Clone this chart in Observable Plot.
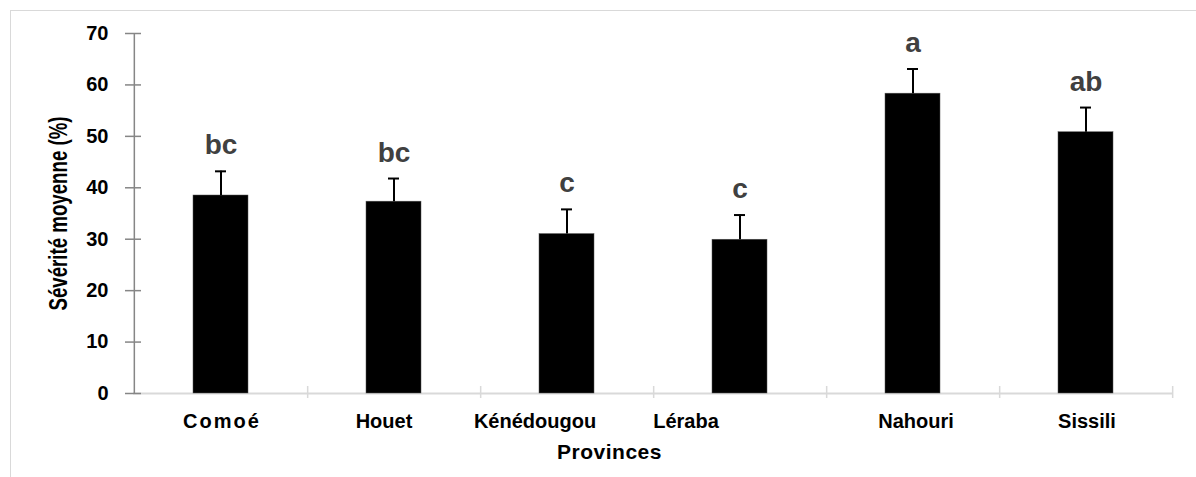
<!DOCTYPE html>
<html><head><meta charset="utf-8">
<script src="https://cdn.jsdelivr.net/npm/d3@7"></script>
<script src="https://cdn.jsdelivr.net/npm/@observablehq/plot@0.6"></script>
<style>
html,body{margin:0;padding:0;background:#fff;overflow:hidden;}
#wrap{position:relative;width:1196px;height:477px;overflow:hidden;}
#chart{position:absolute;left:0;top:0;}
#border{position:absolute;left:10px;top:10px;width:1300px;height:600px;border-left:1.5px solid #d9d9d9;border-top:1.5px solid #d9d9d9;pointer-events:none;}
</style></head><body>
<div id="wrap"><div id="chart"></div><div id="border"></div></div>
<script>
const provinces = ["Comoé", "Houet", "Kénédougou", "Léraba", "Nahouri", "Sissili"];
const severite = [38.5, 37.3, 31.0, 29.9, 58.3, 50.8];
const erreur = [4.7, 4.5, 4.8, 4.8, 4.8, 4.8];
const lettres = ["bc", "bc", "c", "c", "a", "ab"];
const yTicks = [0, 10, 20, 30, 40, 50, 60, 70];
const yTitle = "Sévérité moyenne (%)";
const xTitle = "Provinces";

// layout only: horizontal shift of each category label, as in the original figure
const labelShift = {"Comoé": 1, "Houet": -10, "Kénédougou": -32, "Léraba": -54, "Nahouri": 3, "Sissili": 1};

const data = provinces.map((p, i) => ({province: p, value: severite[i], err: erreur[i], top: severite[i] + erreur[i], letter: lettres[i]}));

const W = 1196, H = 477, mL = 133, mR = 23, mT = 33, mB = 84;
const step = (W - mL - mR) / provinces.length;
const pad = 0.683;

const chart = Plot.plot({
  width: W, height: H,
  marginLeft: mL, marginRight: mR, marginTop: mT, marginBottom: mB,
  style: {fontFamily: "'Liberation Sans', Arial, sans-serif", background: "transparent"},
  x: {domain: provinces, paddingInner: pad, paddingOuter: pad / 2, label: null},
  y: {domain: [0, 70], label: null},
  marks: [
    Plot.ruleY([0], {stroke: "#d9d9d9", strokeWidth: 2}),
    Plot.axisX({tickSize: 12, dx: step / 2, dy: -7, tickFormat: () => "", stroke: "#d9d9d9", strokeWidth: 1.5, label: null}),
    Plot.ruleX([provinces[0]], {x: d => d, y1: 0, y2: 70, dx: -step / 2, stroke: "#868686", strokeWidth: 1.5}),
    Plot.axisY({ticks: yTicks, tickSize: 8, tickFormat: () => "", stroke: "#868686", strokeWidth: 1.5, label: null}),
    Plot.axisY({ticks: yTicks, tickSize: 8, dx: 8, tickFormat: () => "", stroke: "#868686", strokeWidth: 1.5, label: null}),
    Plot.axisY({ticks: yTicks, tickSize: 0, tickPadding: 25, fontSize: 20, fontWeight: "bold", fill: "#000", label: null}),
    ...provinces.map(p => Plot.axisX({ticks: [p], tickSize: 0, tickPadding: 20, dx: labelShift[p], fontSize: 20, fontWeight: "bold", fill: "#000", label: null})),
    Plot.barY(data, {x: "province", y: "value", fill: "#000", stroke: "#555", strokeWidth: 0.5}),
    Plot.ruleX(data, {x: "province", y1: "value", y2: "top", stroke: "#000", strokeWidth: 2}),
    Plot.tickY(data, {x: "province", y: "top", stroke: "#000", strokeWidth: 2, insetLeft: 22, insetRight: 22}),
    Plot.text(data, {x: "province", y: "top", text: "letter", dy: -17, lineAnchor: "bottom", fontSize: 28, fontWeight: "bold", fill: "#404040"}),
    Plot.text([yTitle], {text: d => d, frameAnchor: "left", textAnchor: "middle", lineAnchor: "middle", rotate: -90, dx: -75, fontSize: 25, fontWeight: "bold", fill: "#000"}),
    Plot.text([xTitle], {text: d => d, frameAnchor: "bottom", textAnchor: "middle", lineAnchor: "middle", dx: -44, dy: 59, fontSize: 21, fontWeight: "bold", fill: "#000"})
  ]
});
d3.select(chart).selectAll("text")
  .filter(function () { return this.textContent === yTitle; })
  .attr("textLength", 194).attr("lengthAdjust", "spacingAndGlyphs");
d3.select(chart).selectAll("text")
  .filter(function () { return this.textContent === xTitle; })
  .attr("letter-spacing", "0.5px");
d3.select(chart).selectAll("text")
  .filter(function () { return this.textContent === "Comoé"; })
  .attr("letter-spacing", "2px");
document.getElementById("chart").appendChild(chart);
</script>
</body></html>
